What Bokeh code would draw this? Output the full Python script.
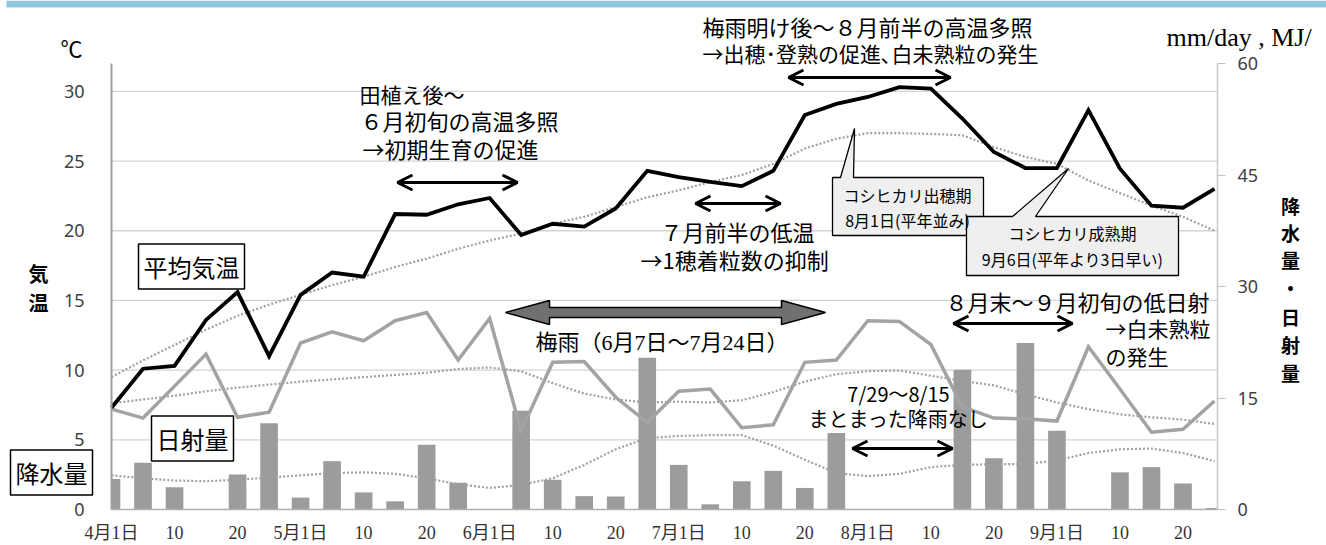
from bokeh.plotting import figure
from bokeh.models import Range1d, LinearAxis, FixedTicker, Label, Arrow, OpenHead
from bokeh.embed import file_html
from bokeh.resources import INLINE

# ---------------- data (half-monthly periods, 4/1 .. 9/30) ----------------
tick_labels = ["4月1日", "10", "20", "5月1日", "10", "20", "6月1日", "10", "20",
               "7月1日", "10", "20", "8月1日", "10", "20", "9月1日", "10", "20"]
temp_ticks = [0, 5, 10, 15, 20, 25, 30]
right_ticks = [0, 15, 30, 45, 60]
temp = [7.3, 10.1, 10.3, 13.6, 15.6, 11.0, 15.4, 17.0, 16.7, 21.2, 21.15, 21.9,
        22.35, 19.7, 20.5, 20.3, 21.6, 24.3, 23.85, 23.5, 23.2, 24.3, 28.3, 29.1,
        29.6, 30.3, 30.2, 28.05, 25.65, 24.5, 24.5, 28.65, 24.45, 21.8, 21.65, 23.0]
temp_normal = [9.5, 10.7, 11.8, 12.9, 13.9, 14.7, 15.4, 16.1, 16.7, 17.4, 18.0, 18.7,
               19.3, 19.8, 20.5, 21.0, 21.7, 22.4, 22.9, 23.5, 24.0, 24.8, 25.9, 26.6,
               27.0, 27.0, 26.95, 26.85, 26.0, 25.3, 24.8, 23.6, 22.7, 21.8, 21.0, 20.0]
solar = [13.5, 12.3, 16.6, 20.9, 12.4, 13.1, 22.4, 23.9, 22.7, 25.4, 26.5, 20.1,
         25.7, 10.6, 19.8, 19.9, 15.1, 11.7, 15.9, 16.2, 11.0, 11.4, 19.8, 20.1,
         25.4, 25.3, 22.2, 13.8, 12.3, 12.2, 11.9, 21.9, 16.2, 10.4, 10.8, 14.6]
solar_normal = [14.3, 14.8, 15.3, 15.9, 16.4, 16.8, 17.2, 17.5, 17.8, 18.1, 18.4, 18.9,
                19.1, 18.6, 17.0, 15.6, 14.8, 14.4, 14.5, 14.4, 14.7, 15.8, 17.2, 18.2,
                18.6, 18.7, 18.0, 17.3, 16.7, 15.5, 14.4, 13.5, 12.8, 12.4, 12.1, 11.5]
precip = [4.1, 6.3, 3.0, 0.0, 4.7, 11.6, 1.6, 6.5, 2.3, 1.1, 8.7, 3.6,
          0.0, 13.3, 4.0, 1.8, 1.75, 20.4, 6.0, 0.7, 3.8, 5.2, 2.9, 10.3,
          0.0, 0.0, 0.0, 18.8, 6.9, 22.4, 10.6, 0.0, 5.0, 5.7, 3.5, 0.2]
precip_normal = [4.6, 4.2, 3.9, 3.8, 4.0, 4.3, 4.6, 4.9, 5.0, 4.8, 4.2, 3.4,
                 2.9, 3.3, 4.2, 6.0, 8.1, 9.6, 9.9, 10.0, 10.0, 8.6, 6.7, 4.9,
                 4.5, 4.8, 5.7, 6.0, 6.1, 6.1, 6.6, 7.6, 8.1, 8.2, 7.6, 6.5]
idx = list(range(len(temp)))

# ---------------- layout helpers (canvas pixel -> data) ----------------
W, H = 1326, 545
FL, FR, FT, FB = 111, 1217, 63, 509       # plot-area edges in canvas pixels
PXX = (1214 - 111) / 35.0
TMAX, RMAX = 32.0, 60.0
PXY = (FB - FT) / TMAX
RK = RMAX / TMAX


def dx(px):
    return (px - FL) / PXX


def dy(py):
    return (FB - py) / PXY


XMAX = dx(FR)
GOTH = "Noto Sans CJK JP"
MIN = "Liberation Serif, Noto Sans CJK JP"
GRAY = "#9c9c9c"

p = figure(width=W, height=H, min_border=0,
           x_range=Range1d(dx(0), dx(W)), y_range=Range1d(dy(H), dy(0)),
           output_backend="svg", toolbar_location=None)
p.extra_y_ranges = {"r": Range1d(dy(H) * RK, dy(0) * RK)}
p.outline_line_color = None
p.background_fill_color = "white"
p.xgrid.visible = False
p.ygrid.visible = False

# left (temperature) axis
ya = p.yaxis[0]
ya.fixed_location = 0
ya.bounds = (0, TMAX)
ya.ticker = FixedTicker(ticks=temp_ticks)
ya.major_tick_out = 0
ya.major_tick_in = 0
ya.minor_tick_out = 0
ya.minor_tick_in = 0
ya.axis_line_color = "#a0a0a0"
ya.axis_line_width = 2
ya.major_label_standoff = 27
ya.major_label_text_font = "Noto Sans"
ya.major_label_text_font_size = "18px"
ya.major_label_text_color = "#404040"

# bottom axis
xa = p.xaxis[0]
xa.fixed_location = 0
xa.bounds = (0, XMAX)
xa.ticker = FixedTicker(ticks=list(range(0, 36, 2)))
xa.major_label_overrides = {i * 2: t for i, t in enumerate(tick_labels)}
xa.major_tick_out = 0
xa.major_tick_in = 0
xa.minor_tick_out = 0
xa.minor_tick_in = 0
xa.axis_line_color = "#b0b0b0"
xa.axis_line_width = 1.5
xa.major_label_standoff = 13
xa.major_label_text_font = MIN
xa.major_label_text_font_size = "18px"
xa.major_label_text_color = "#333333"

# right (precipitation / radiation) axis
ry = LinearAxis(y_range_name="r", ticker=FixedTicker(ticks=right_ticks))
ry.fixed_location = XMAX
ry.bounds = (0, RMAX)
ry.axis_line_color = "#c8c8c8"
ry.axis_line_width = 1.5
ry.major_tick_out = 8
ry.major_tick_in = 0
ry.minor_tick_out = 0
ry.minor_tick_in = 0
ry.major_tick_line_color = "#c0c0c0"
ry.major_label_standoff = 12
ry.major_label_text_font = "Noto Sans"
ry.major_label_text_font_size = "18px"
ry.major_label_text_color = "#404040"
p.add_layout(ry, "right")

# horizontal grid lines across the plot area
gt = temp_ticks[1:]
p.segment(x0=[0] * len(gt), x1=[XMAX] * len(gt), y0=gt, y1=gt,
          line_color="#d4d4d4", line_width=1.3)

# top band
p.quad(left=[dx(6)], right=[dx(W)], bottom=[dy(7)], top=[dy(0)],
       fill_color="#8fc6df", line_color=None)

# ---------------- series ----------------
BW = 0.56
p.quad(left=[max(i - BW / 2, 0) for i in idx], right=[min(i + BW / 2, XMAX) for i in idx],
       bottom=[0] * len(idx), top=precip, fill_color=GRAY, line_color=None, y_range_name="r")
p.line(idx, precip_normal, y_range_name="r", line_color="#a0a0a0", line_width=2.2, line_dash="2 2")
p.line(idx, solar_normal, y_range_name="r", line_color="#a0a0a0", line_width=2.2, line_dash="2 2")
p.line(idx, temp_normal, line_color="#a0a0a0", line_width=2.2, line_dash="2 2")
p.line(idx, solar, y_range_name="r", line_color="#a3a3a3", line_width=3.5, line_join="miter")
p.line(idx, temp, line_color="black", line_width=3.8, line_join="miter")


# ---------------- annotations ----------------
def lab(text, px, py, size, font=GOTH, align="left", color="black", style="normal", **kw):
    p.add_layout(Label(x=dx(px), y=dy(py), text=text, text_font=font,
                       text_font_size=f"{size}px", text_align=align,
                       text_baseline="middle", text_color=color,
                       text_font_style=style, **kw))


def darrow(x0, x1, y, color="black"):
    p.add_layout(Arrow(x_start=dx(x0), y_start=dy(y), x_end=dx(x1), y_end=dy(y),
                       start=OpenHead(size=15, line_width=3, line_color=color),
                       end=OpenHead(size=15, line_width=3, line_color=color),
                       line_width=3, line_color=color))


def poly(pts, fill, line="black", lw=1.3):
    p.patch([dx(a) for a, b in pts], [dy(b) for a, b in pts],
            fill_color=fill, line_color=line, line_width=lw)


# axis units / titles
lab("℃", 71, 49, 22, font=MIN, align="center")
lab("mm/day , MJ/", 1166, 37, 26, font=MIN)
lab("気", 38, 273, 20, style="bold", align="center")
lab("温", 38, 302, 20, style="bold", align="center")
for ch, yy in zip("降水量・日射量", [205, 232, 259, 287, 316, 344, 372]):
    lab(ch, 1290, yy, 19, style="bold", align="center")

# series name boxes
box = dict(border_line_color="black", border_line_width=1.5,
           background_fill_color="white", padding=5)
lab("平均気温", 191, 266, 24, align="center", **box)
lab("日射量", 192, 438, 24, align="center", **box)
lab("降水量", 51, 472, 24, align="center", **box)

# early season
lab("田植え後〜", 359, 93, 21)
lab("６月初旬の高温多照", 360, 119, 22)
lab("→初期生育の促進", 362, 147, 22)
darrow(397, 517, 182)

# after rainy season
lab("梅雨明け後〜８月前半の高温多照", 702, 25, 22)
lab("→出穂･登熟の促進､白未熟粒の発生", 702, 52, 21)
darrow(788, 950, 77)

# July low temperature
lab("７月前半の低温", 660, 230, 22)
lab("→1穂着粒数の抑制", 640, 258, 22)
darrow(695, 780, 203)

# heading callout
poly([(832, 177), (840, 177), (854, 128), (853, 177), (983, 177), (983, 235), (832, 235)], "#efefef")
lab("コシヒカリ出穂期", 907, 194, 16, align="center")
lab("8月1日(平年並み)", 907, 219, 16, align="center")

# maturity callout
poly([(966, 216), (1012, 216), (1068, 168), (1035, 216), (1178, 216), (1178, 275), (966, 275)], "#efefef")
lab("コシヒカリ成熟期", 1072, 232, 16, align="center")
lab("9月6日(平年より3日早い)", 1072, 258, 16, align="center")

# rainy season big arrow
poly([(505, 312), (549, 300), (549, 307), (781, 307), (781, 300), (825, 312),
      (781, 324), (781, 317), (549, 317), (549, 324)], "#707070", lw=1.5)
lab("梅雨（6月7日〜7月24日）", 535, 342, 22, font=MIN)

# late Aug low radiation
lab("８月末〜９月初旬の低日射", 945, 300, 22)
lab("→白未熟粒", 1105, 327, 21)
lab("の発生", 1105, 355, 21)
darrow(953, 1072, 323)

# no rain
lab("7/29〜8/15", 898, 393, 20, align="center")
lab("まとまった降雨なし", 808, 418, 20)
darrow(852, 952, 448)

open("out.html", "w").write(file_html(p, INLINE))
